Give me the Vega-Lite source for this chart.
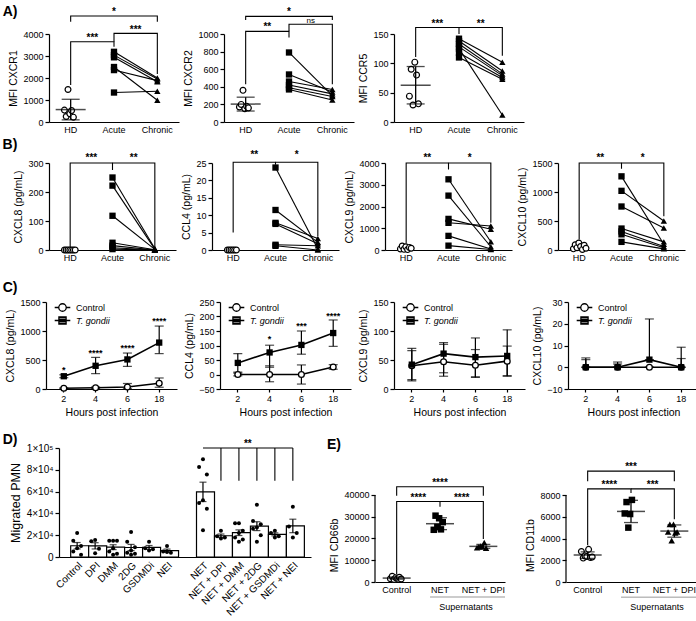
{
"$schema":"https://vega.github.io/schema/vega-lite/v6.json",
"padding":{"left":1,"top":5,"right":0,"bottom":0},
"config":{
 "view":{"stroke":null},
 "font":"Liberation Sans",
 "axis":{"labelFont":"Liberation Sans","titleFont":"Liberation Sans","labelFontSize":9,"titleFontSize":10.5,"titleFontWeight":"normal","labelColor":"black","titleColor":"black","domainColor":"black","tickColor":"black","domainWidth":1.2,"tickWidth":1.2,"tickSize":4,"grid":false,"labelPadding":2,"titlePadding":4,"labelOverlap":false},
 "text":{"font":"Liberation Sans","color":"black"},
 "point":{"opacity":1},
 "legend":{"labelFont":"Liberation Sans","labelColor":"black"}
},
"datasets":{
 "sp":[{"a":0}],
 "a1":[{"g":"HD","d":1,"v":540},{"g":"HD","d":2,"v":250},{"g":"HD","d":3,"v":1480},{"g":"HD","d":4,"v":380},{"g":"HD","d":5,"v":520},{"g":"HD","d":6,"v":220},
  {"g":"Acute","d":1,"v":3190},{"g":"Chronic","d":1,"v":2000},{"g":"Acute","d":2,"v":3040},{"g":"Chronic","d":2,"v":1950},{"g":"Acute","d":3,"v":2940},{"g":"Chronic","d":3,"v":1830},{"g":"Acute","d":4,"v":2500},{"g":"Chronic","d":4,"v":990},{"g":"Acute","d":5,"v":2360},{"g":"Chronic","d":5,"v":1880},{"g":"Acute","d":6,"v":1340},{"g":"Chronic","d":6,"v":1400}],
 "a1k":[{"k":"b","b":1,"o":1,"g":"HD","v":1680},{"k":"b","b":1,"o":2,"g":"HD","v":3650},{"k":"b","b":1,"o":3,"g":"Acute","v":3650},{"k":"b","b":1,"o":4,"g":"Acute","v":3420},
  {"k":"b","b":2,"o":1,"g":"Acute","v":3650},{"k":"b","b":2,"o":2,"g":"Acute","v":4030},{"k":"b","b":2,"o":3,"g":"Chronic","v":4030},{"k":"b","b":2,"o":4,"g":"Chronic","v":2180},
  {"k":"b","b":3,"o":1,"g":"HD","v":4560},{"k":"b","b":3,"o":2,"g":"HD","v":4820},{"k":"b","b":3,"o":3,"g":"Chronic","v":4820},{"k":"b","b":3,"o":4,"g":"Chronic","v":4560},
  {"k":"m","g":"HD","v":3680,"t":"***"},{"k":"m","g":"Acute","v":4060,"t":"***"},{"k":"c","g":"Acute","v":4850,"t":"*"},{"k":"L","g":"HD","v":5318,"t":"A)"}],
 "a2":[{"g":"HD","d":1,"v":170},{"g":"HD","d":2,"v":200},{"g":"HD","d":3,"v":360},{"g":"HD","d":4,"v":150},{"g":"HD","d":5,"v":180},{"g":"HD","d":6,"v":160},
  {"g":"Acute","d":1,"v":790},{"g":"Chronic","d":1,"v":300},{"g":"Acute","d":2,"v":540},{"g":"Chronic","d":2,"v":340},{"g":"Acute","d":3,"v":460},{"g":"Chronic","d":3,"v":370},{"g":"Acute","d":4,"v":420},{"g":"Chronic","d":4,"v":320},{"g":"Acute","d":5,"v":390},{"g":"Chronic","d":5,"v":290},{"g":"Acute","d":6,"v":370},{"g":"Chronic","d":6,"v":250}],
 "a2k":[{"k":"b","b":1,"o":1,"g":"HD","v":430},{"k":"b","b":1,"o":2,"g":"HD","v":1030},{"k":"b","b":1,"o":3,"g":"Acute","v":1030},{"k":"b","b":1,"o":4,"g":"Acute","v":960},
  {"k":"b","b":2,"o":1,"g":"Acute","v":1030},{"k":"b","b":2,"o":2,"g":"Acute","v":1110},{"k":"b","b":2,"o":3,"g":"Chronic","v":1110},{"k":"b","b":2,"o":4,"g":"Chronic","v":430},
  {"k":"b","b":3,"o":1,"g":"HD","v":1160},{"k":"b","b":3,"o":2,"g":"HD","v":1200},{"k":"b","b":3,"o":3,"g":"Chronic","v":1200},{"k":"b","b":3,"o":4,"g":"Chronic","v":1160},
  {"k":"m","g":"HD","v":1040,"t":"**"},{"k":"n","g":"Acute","v":1122,"t":"ns"},{"k":"c","g":"Acute","v":1212,"t":"*"}],
 "a3":[{"g":"HD","d":1,"v":44},{"g":"HD","d":2,"v":90},{"g":"HD","d":3,"v":29},{"g":"HD","d":4,"v":102},{"g":"HD","d":5,"v":80},{"g":"HD","d":6,"v":31},
  {"g":"Acute","d":1,"v":142},{"g":"Chronic","d":1,"v":102},{"g":"Acute","d":2,"v":138},{"g":"Chronic","d":2,"v":87},{"g":"Acute","d":3,"v":133},{"g":"Chronic","d":3,"v":82},{"g":"Acute","d":4,"v":125},{"g":"Chronic","d":4,"v":12},{"g":"Acute","d":5,"v":128},{"g":"Chronic","d":5,"v":79},{"g":"Acute","d":6,"v":118},{"g":"Chronic","d":6,"v":76},{"g":"Acute","d":7,"v":110},{"g":"Chronic","d":7,"v":73}],
 "a3k":[{"k":"b","b":1,"o":1,"g":"HD","v":111},{"k":"b","b":1,"o":2,"g":"HD","v":161},{"k":"b","b":1,"o":3,"g":"Acute","v":161},{"k":"b","b":1,"o":4,"g":"Acute","v":150},
  {"k":"b","b":2,"o":1,"g":"Acute","v":161},{"k":"b","b":2,"o":2,"g":"Chronic","v":161},{"k":"b","b":2,"o":3,"g":"Chronic","v":113},
  {"k":"m","g":"HD","v":162,"t":"***"},{"k":"m","g":"Acute","v":162,"t":"**"}],
 "b1":[{"g":"HD","d":1,"v":0},{"g":"HD","d":2,"v":0},{"g":"HD","d":3,"v":0},{"g":"HD","d":4,"v":0},{"g":"HD","d":5,"v":0},{"g":"HD","d":6,"v":0},{"g":"HD","d":7,"v":0},
  {"g":"Acute","d":1,"v":250},{"g":"Chronic","d":1,"v":5},{"g":"Acute","d":2,"v":222},{"g":"Chronic","d":2,"v":3},{"g":"Acute","d":3,"v":118},{"g":"Chronic","d":3,"v":2},{"g":"Acute","d":4,"v":25},{"g":"Chronic","d":4,"v":1},{"g":"Acute","d":5,"v":15},{"g":"Chronic","d":5,"v":0},{"g":"Acute","d":6,"v":8},{"g":"Chronic","d":6,"v":0},{"g":"Acute","d":7,"v":3},{"g":"Chronic","d":7,"v":0}],
 "b1k":[{"k":"b","b":1,"o":1,"g":"HD","v":10},{"k":"b","b":1,"o":2,"g":"HD","v":300},{"k":"b","b":1,"o":3,"g":"Acute","v":300},{"k":"b","b":1,"o":4,"g":"Acute","v":276},
  {"k":"b","b":2,"o":1,"g":"Acute","v":300},{"k":"b","b":2,"o":2,"g":"Chronic","v":300},{"k":"b","b":2,"o":3,"g":"Chronic","v":10},
  {"k":"m","g":"HD","v":307,"t":"***"},{"k":"m","g":"Acute","v":307,"t":"**"},{"k":"L","g":"HD","v":386,"t":"B)"}],
 "b2":[{"g":"HD","d":1,"v":0},{"g":"HD","d":2,"v":0},{"g":"HD","d":3,"v":0},{"g":"HD","d":4,"v":0},{"g":"HD","d":5,"v":0},{"g":"HD","d":6,"v":0},
  {"g":"Acute","d":1,"v":23.7},{"g":"Chronic","d":1,"v":0.3},{"g":"Acute","d":2,"v":11.5},{"g":"Chronic","d":2,"v":2.2},{"g":"Acute","d":3,"v":7.8},{"g":"Chronic","d":3,"v":3.3},{"g":"Acute","d":4,"v":7.5},{"g":"Chronic","d":4,"v":1.8},{"g":"Acute","d":5,"v":1.5},{"g":"Chronic","d":5,"v":1.2},{"g":"Acute","d":6,"v":1.2},{"g":"Chronic","d":6,"v":0}],
 "b2k":[{"k":"b","b":1,"o":1,"g":"HD","v":5},{"k":"b","b":1,"o":2,"g":"HD","v":25.2},{"k":"b","b":1,"o":3,"g":"Acute","v":25.2},{"k":"b","b":1,"o":4,"g":"Acute","v":24.5},
  {"k":"b","b":2,"o":1,"g":"Acute","v":25.2},{"k":"b","b":2,"o":2,"g":"Chronic","v":25.2},{"k":"b","b":2,"o":3,"g":"Chronic","v":4},
  {"k":"m","g":"HD","v":26.3,"t":"**"},{"k":"m","g":"Acute","v":26.3,"t":"*"}],
 "b3":[{"g":"HD","d":1,"v":50},{"g":"HD","d":2,"v":180},{"g":"HD","d":3,"v":30},{"g":"HD","d":4,"v":150},{"g":"HD","d":5,"v":20},{"g":"HD","d":6,"v":120},{"g":"HD","d":7,"v":80},
  {"g":"Acute","d":1,"v":3250},{"g":"Chronic","d":1,"v":380},{"g":"Acute","d":2,"v":2500},{"g":"Chronic","d":2,"v":150},{"g":"Acute","d":3,"v":1430},{"g":"Chronic","d":3,"v":950},{"g":"Acute","d":4,"v":1250},{"g":"Chronic","d":4,"v":1100},{"g":"Acute","d":5,"v":650},{"g":"Chronic","d":5,"v":50},{"g":"Acute","d":6,"v":200},{"g":"Chronic","d":6,"v":20}],
 "b3k":[{"k":"b","b":1,"o":1,"g":"HD","v":300},{"k":"b","b":1,"o":2,"g":"HD","v":4000},{"k":"b","b":1,"o":3,"g":"Acute","v":4000},{"k":"b","b":1,"o":4,"g":"Acute","v":3700},
  {"k":"b","b":2,"o":1,"g":"Acute","v":4000},{"k":"b","b":2,"o":2,"g":"Chronic","v":4000},{"k":"b","b":2,"o":3,"g":"Chronic","v":1250},
  {"k":"m","g":"HD","v":4090,"t":"**"},{"k":"m","g":"Acute","v":4090,"t":"*"}],
 "b4":[{"g":"HD","d":1,"v":20},{"g":"HD","d":2,"v":90},{"g":"HD","d":3,"v":40},{"g":"HD","d":4,"v":120},{"g":"HD","d":5,"v":60},{"g":"HD","d":6,"v":10},{"g":"HD","d":7,"v":80},{"g":"HD","d":8,"v":30},
  {"g":"Acute","d":1,"v":1270},{"g":"Chronic","d":1,"v":100},{"g":"Acute","d":2,"v":1020},{"g":"Chronic","d":2,"v":500},{"g":"Acute","d":3,"v":750},{"g":"Chronic","d":3,"v":380},{"g":"Acute","d":4,"v":370},{"g":"Chronic","d":4,"v":140},{"g":"Acute","d":5,"v":320},{"g":"Chronic","d":5,"v":60},{"g":"Acute","d":6,"v":270},{"g":"Chronic","d":6,"v":40},{"g":"Acute","d":7,"v":140},{"g":"Chronic","d":7,"v":20}],
 "b4k":[{"k":"b","b":1,"o":1,"g":"HD","v":180},{"k":"b","b":1,"o":2,"g":"HD","v":1500},{"k":"b","b":1,"o":3,"g":"Acute","v":1500},{"k":"b","b":1,"o":4,"g":"Acute","v":1400},
  {"k":"b","b":2,"o":1,"g":"Acute","v":1500},{"k":"b","b":2,"o":2,"g":"Chronic","v":1500},{"k":"b","b":2,"o":3,"g":"Chronic","v":580},
  {"k":"m","g":"HD","v":1535,"t":"**"},{"k":"m","g":"Acute","v":1535,"t":"*"}],
 "c1":[{"t":"2","grp":"Control","v":12,"lo":5,"hi":20},{"t":"4","grp":"Control","v":22,"lo":10,"hi":35},{"t":"6","grp":"Control","v":35,"lo":5,"hi":95},{"t":"18","grp":"Control","v":100,"lo":30,"hi":190},
  {"t":"2","grp":"T. gondii","v":220,"lo":195,"hi":245},{"t":"4","grp":"T. gondii","v":400,"lo":265,"hi":545},{"t":"6","grp":"T. gondii","v":510,"lo":390,"hi":620},{"t":"18","grp":"T. gondii","v":800,"lo":610,"hi":1085}],
 "c1s":[{"k":"s","t":"2","v":270,"s":"*"},{"k":"s","t":"4","v":575,"s":"****"},{"k":"s","t":"6","v":650,"s":"****"},{"k":"s","t":"18","v":1115,"s":"****"},{"k":"L","t":"2","v":1862,"s":"C)"}],
 "c2":[{"t":"2","grp":"Control","v":0,"lo":-5,"hi":5},{"t":"4","grp":"Control","v":0,"lo":-25,"hi":30},{"t":"6","grp":"Control","v":0,"lo":-33,"hi":33},{"t":"18","grp":"Control","v":26,"lo":18,"hi":34},
  {"t":"2","grp":"T. gondii","v":40,"lo":8,"hi":72},{"t":"4","grp":"T. gondii","v":76,"lo":25,"hi":101},{"t":"6","grp":"T. gondii","v":102,"lo":70,"hi":150},{"t":"18","grp":"T. gondii","v":143,"lo":97,"hi":188}],
 "c2s":[{"k":"s","t":"4","v":111,"s":"*"},{"k":"s","t":"6","v":158,"s":"***"},{"k":"s","t":"18","v":192,"s":"****"}],
 "c3":[{"t":"2","grp":"Control","v":40,"lo":14,"hi":66},{"t":"4","grp":"Control","v":47,"lo":22,"hi":77},{"t":"6","grp":"Control","v":41,"lo":21,"hi":68},{"t":"18","grp":"Control","v":48,"lo":23,"hi":74},
  {"t":"2","grp":"T. gondii","v":42,"lo":16,"hi":70},{"t":"4","grp":"T. gondii","v":61,"lo":28,"hi":80},{"t":"6","grp":"T. gondii","v":55,"lo":20,"hi":88},{"t":"18","grp":"T. gondii","v":57,"lo":22,"hi":102}],
 "c4":[{"t":"2","grp":"Control","v":0,"lo":0,"hi":3.5},{"t":"4","grp":"Control","v":0,"lo":0,"hi":1.5},{"t":"6","grp":"Control","v":0,"lo":0,"hi":0.01},{"t":"18","grp":"Control","v":0,"lo":0,"hi":4},
  {"t":"2","grp":"T. gondii","v":0,"lo":0,"hi":4.3},{"t":"4","grp":"T. gondii","v":0,"lo":0,"hi":2.4},{"t":"6","grp":"T. gondii","v":3.5,"lo":3.5,"hi":22.2},{"t":"18","grp":"T. gondii","v":0,"lo":0,"hi":9.2}],
 "d":[{"c":"Control","r":1,"v":22000},{"c":"Control","r":2,"v":15000},{"c":"Control","r":3,"v":10000},{"c":"Control","r":4,"v":8000},{"c":"Control","r":5,"v":5000},{"c":"Control","r":6,"v":2000},
  {"c":"DPI","r":1,"v":15500},{"c":"DPI","r":2,"v":14500},{"c":"DPI","r":3,"v":7500},{"c":"DPI","r":4,"v":3500},
  {"c":"DMM","r":1,"v":15000},{"c":"DMM","r":2,"v":15000},{"c":"DMM","r":3,"v":15000},{"c":"DMM","r":4,"v":8000},{"c":"DMM","r":5,"v":5000},{"c":"DMM","r":6,"v":3000},{"c":"DMM","r":7,"v":2000},
  {"c":"2DG","r":1,"v":23000},{"c":"2DG","r":2,"v":14000},{"c":"2DG","r":3,"v":9000},{"c":"2DG","r":4,"v":6000},{"c":"2DG","r":5,"v":4000},{"c":"2DG","r":6,"v":3000},{"c":"2DG","r":7,"v":2000},
  {"c":"GSDMDi","r":1,"v":14000},{"c":"GSDMDi","r":2,"v":8000},{"c":"GSDMDi","r":3,"v":7000},{"c":"GSDMDi","r":4,"v":6000},
  {"c":"NEI","r":1,"v":10000},{"c":"NEI","r":2,"v":5000},{"c":"NEI","r":3,"v":4000},{"c":"NEI","r":4,"v":4500},
  {"c":"NET","r":1,"v":89600},{"c":"NET","r":2,"v":82600},{"c":"NET","r":3,"v":75800},{"c":"NET","r":4,"v":52000},{"c":"NET","r":5,"v":49500},{"c":"NET","r":6,"v":44300},{"c":"NET","r":7,"v":24500},
  {"c":"NET + DPI","r":1,"v":24000},{"c":"NET + DPI","r":2,"v":19000},{"c":"NET + DPI","r":3,"v":18000},{"c":"NET + DPI","r":4,"v":17000},
  {"c":"NET + DMM","r":1,"v":31000},{"c":"NET + DMM","r":2,"v":31000},{"c":"NET + DMM","r":3,"v":24000},{"c":"NET + DMM","r":4,"v":22000},{"c":"NET + DMM","r":5,"v":18000},{"c":"NET + DMM","r":6,"v":16000},{"c":"NET + DMM","r":7,"v":14000},
  {"c":"NET + 2DG","r":1,"v":48000},{"c":"NET + 2DG","r":2,"v":33000},{"c":"NET + 2DG","r":3,"v":30000},{"c":"NET + 2DG","r":4,"v":27000},{"c":"NET + 2DG","r":5,"v":26000},{"c":"NET + 2DG","r":6,"v":20000},{"c":"NET + 2DG","r":7,"v":14000},
  {"c":"NET + GSDMDi","r":1,"v":24000},{"c":"NET + GSDMDi","r":2,"v":22000},{"c":"NET + GSDMDi","r":3,"v":19000},{"c":"NET + GSDMDi","r":4,"v":18000},
  {"c":"NET + NEI","r":1,"v":46000},{"c":"NET + NEI","r":2,"v":28000},{"c":"NET + NEI","r":3,"v":22000},{"c":"NET + NEI","r":4,"v":18000}],
 "dk":[{"k":"r","c":"NET + DPI","v":70000,"v2":100000},{"k":"r","c":"NET + DMM","v":70000,"v2":100000},{"k":"r","c":"NET + 2DG","v":70000,"v2":100000},{"k":"r","c":"NET + GSDMDi","v":70000,"v2":100000},{"k":"r","c":"NET + NEI","v":70000,"v2":100000},
  {"k":"h","c":"NET","v":100000},{"k":"h","c":"NET + NEI","v":100000},{"k":"s","c":"NET + DMM","v":100900,"t":"**"},{"k":"L","c":"Control","v":113760,"t":"D)"}],
 "e1":[{"g":"Control","r":1,"v":1500},{"g":"Control","r":2,"v":2600},{"g":"Control","r":3,"v":1200},{"g":"Control","r":4,"v":2000},{"g":"Control","r":5,"v":1700},{"g":"Control","r":6,"v":2200},{"g":"Control","r":7,"v":1400},
  {"g":"NET","r":1,"v":24000},{"g":"NET","r":2,"v":30500},{"g":"NET","r":3,"v":25300},{"g":"NET","r":4,"v":29300},{"g":"NET","r":5,"v":24200},{"g":"NET","r":6,"v":27500},
  {"g":"NET + DPI","r":1,"v":15800},{"g":"NET + DPI","r":2,"v":16200},{"g":"NET + DPI","r":3,"v":16500},{"g":"NET + DPI","r":4,"v":16100},{"g":"NET + DPI","r":5,"v":18100},{"g":"NET + DPI","r":6,"v":15600}],
 "e1k":[{"k":"b","b":1,"o":1,"g":"Control","v":3680},{"k":"b","b":1,"o":2,"g":"Control","v":37000},{"k":"b","b":1,"o":3,"g":"NET","v":37000},{"k":"b","b":1,"o":4,"g":"NET","v":34600},
  {"k":"b","b":2,"o":1,"g":"NET","v":37000},{"k":"b","b":2,"o":2,"g":"NET + DPI","v":37000},{"k":"b","b":2,"o":3,"g":"NET + DPI","v":19800},
  {"k":"b","b":3,"o":1,"g":"Control","v":39700},{"k":"b","b":3,"o":2,"g":"Control","v":43800},{"k":"b","b":3,"o":3,"g":"NET + DPI","v":43800},{"k":"b","b":3,"o":4,"g":"NET + DPI","v":39700},
  {"k":"m","g":"Control","v":37400,"t":"****"},{"k":"m","g":"NET","v":37400,"t":"****"},{"k":"c","g":"NET","v":44200,"t":"****"},
  {"k":"u","g":"NET","g2":"NET + DPI","v":-6900},{"k":"w","g":"NET","v":-12900,"t":"Supernatants"},{"k":"L","g":"Control","v":66200,"t":"E)"},
  {"k":"ax","g":"Control","v":0,"v2":40000}],
 "e2":[{"g":"Control","r":1,"v":2800},{"g":"Control","r":2,"v":2200},{"g":"Control","r":3,"v":2400},{"g":"Control","r":4,"v":2350},{"g":"Control","r":5,"v":3000},{"g":"Control","r":6,"v":2250},{"g":"Control","r":7,"v":2300},
  {"g":"NET","r":1,"v":6300},{"g":"NET","r":2,"v":7350},{"g":"NET","r":3,"v":5000},{"g":"NET","r":4,"v":6250},{"g":"NET","r":5,"v":7550},
  {"g":"NET + DPI","r":1,"v":4600},{"g":"NET + DPI","r":2,"v":5300},{"g":"NET + DPI","r":3,"v":3800},{"g":"NET + DPI","r":4,"v":5300},{"g":"NET + DPI","r":5,"v":4500},{"g":"NET + DPI","r":6,"v":4600}],
 "e2k":[{"k":"b","b":1,"o":1,"g":"Control","v":3380},{"k":"b","b":1,"o":2,"g":"Control","v":8560},{"k":"b","b":1,"o":3,"g":"NET","v":8560},{"k":"b","b":1,"o":4,"g":"NET","v":8180},
  {"k":"b","b":2,"o":1,"g":"NET","v":8560},{"k":"b","b":2,"o":2,"g":"NET + DPI","v":8560},{"k":"b","b":2,"o":3,"g":"NET + DPI","v":5770},
  {"k":"b","b":3,"o":1,"g":"Control","v":9270},{"k":"b","b":3,"o":2,"g":"Control","v":10200},{"k":"b","b":3,"o":3,"g":"NET + DPI","v":10200},{"k":"b","b":3,"o":4,"g":"NET + DPI","v":9270},
  {"k":"m","g":"Control","v":8640,"t":"****"},{"k":"m","g":"NET","v":8640,"t":"***"},{"k":"c","g":"NET","v":10280,"t":"***"},
  {"k":"u","g":"NET","g2":"NET + DPI","v":-1395},{"k":"w","g":"NET","v":-2600,"t":"Supernatants"},
  {"k":"ax","g":"Control","v":0,"v2":8000}]
},
"resolve":{"scale":{"shape":"independent"},"legend":{"shape":"independent"}},
"spacing":15,
"vconcat":[
 {"spacing":19,"resolve":{"scale":{"shape":"independent"},"legend":{"shape":"independent"}},
  "vconcat":[
  {"spacing":4,
   "vconcat":[
   {"spacing":0,"hconcat":[
    {"width":1,"height":1,"data":{"name":"sp"},"mark":{"type":"point","size":0,"opacity":0},"encoding":{}},
    {"spacing":4,"hconcat":[
    {"width":130,"height":88,
     "encoding":{"x":{"field":"g","type":"nominal","scale":{"domain":["HD","Acute","Chronic"],"paddingInner":0,"paddingOuter":0},"axis":{"title":null,"labelAngle":0,"ticks":false,"labelPadding":3}},
       "y":{"field":"v","type":"quantitative","title":"MFI CXCR1","scale":{"domain":[0,4000],"nice":false,"zero":false},"axis":{"values":[0,1000,2000,3000,4000],"format":"d","title":"MFI CXCR1"}}},
     "layer":[
     {"data":{"name":"a1"},"transform":[{"filter":"datum.g=='HD'"}],"mark":{"type":"point","shape":"circle","filled":true,"fill":"white","stroke":"black","strokeWidth":1.2,"size":34,"opacity":1},"encoding":{"xOffset":{"field":"d","type":"nominal","scale":{"range":[14.5,28.9]}}}},
     {"data":{"name":"a1"},"transform":[{"filter":"datum.g!='HD'"}],"mark":{"type":"line","color":"black","strokeWidth":1.1},"encoding":{"detail":{"field":"d"}}},
     {"data":{"name":"a1"},"transform":[{"filter":"datum.g!='HD'"}],"mark":{"type":"point","filled":true,"color":"black","size":40,"opacity":1},"encoding":{"shape":{"field":"g","type":"nominal","scale":{"domain":["Acute","Chronic"],"range":["square","triangle-up"]},"legend":null}}},
     {"data":{"name":"a1"},"transform":[{"filter":"datum.g=='HD'"}],"mark":{"type":"errorbar","extent":"stdev","ticks":true,"size":18,"thickness":1.3,"color":"black"},"encoding":{}},
     {"data":{"name":"a1"},"transform":[{"filter":"datum.g=='HD'"},{"aggregate":[{"op":"mean","field":"v","as":"v"}],"groupby":["g"]}],"mark":{"type":"tick","size":30,"thickness":1.5,"color":"black"},"encoding":{}},
     {"data":{"name":"a1k"},"transform":[{"filter":"datum.k=='b'"}],"mark":{"type":"line","color":"black","strokeWidth":1.1},"encoding":{"detail":{"field":"b"},"order":{"field":"o"}}},
     {"data":{"name":"a1k"},"transform":[{"filter":"datum.k=='m'"}],"mark":{"type":"text","color":"black","fontSize":10,"fontWeight":"bold","baseline":"alphabetic"},"encoding":{"x":{"field":"g","type":"nominal","bandPosition":1},"text":{"field":"t"}}},
     {"data":{"name":"a1k"},"transform":[{"filter":"datum.k=='c'"}],"mark":{"type":"text","color":"black","fontSize":10,"fontWeight":"bold","baseline":"alphabetic"},"encoding":{"x":{"field":"g","type":"nominal","bandPosition":0.5},"text":{"field":"t"}}},
     {"data":{"name":"a1k"},"transform":[{"filter":"datum.k=='L'"}],"mark":{"type":"text","color":"black","fontSize":14,"fontWeight":"bold","align":"left","baseline":"top"},"encoding":{"x":{"field":"g","type":"nominal","bandPosition":-1.07},"text":{"field":"t"}}}
    ]},
    {"width":130,"height":88,
     "encoding":{"x":{"field":"g","type":"nominal","scale":{"domain":["HD","Acute","Chronic"],"paddingInner":0,"paddingOuter":0},"axis":{"title":null,"labelAngle":0,"ticks":false,"labelPadding":3}},
       "y":{"field":"v","type":"quantitative","title":"MFI CXCR2","scale":{"domain":[0,1000],"nice":false,"zero":false},"axis":{"values":[0,200,400,600,800,1000],"format":"d","title":"MFI CXCR2"}}},
     "layer":[
     {"data":{"name":"a2"},"transform":[{"filter":"datum.g=='HD'"}],"mark":{"type":"point","shape":"circle","filled":true,"fill":"white","stroke":"black","strokeWidth":1.2,"size":34,"opacity":1},"encoding":{"xOffset":{"field":"d","type":"nominal","scale":{"range":[7.9,35.5]}}}},
     {"data":{"name":"a2"},"transform":[{"filter":"datum.g!='HD'"}],"mark":{"type":"line","color":"black","strokeWidth":1.1},"encoding":{"detail":{"field":"d"}}},
     {"data":{"name":"a2"},"transform":[{"filter":"datum.g!='HD'"}],"mark":{"type":"point","filled":true,"color":"black","size":40,"opacity":1},"encoding":{"shape":{"field":"g","type":"nominal","scale":{"domain":["Acute","Chronic"],"range":["square","triangle-up"]},"legend":null}}},
     {"data":{"name":"a2"},"transform":[{"filter":"datum.g=='HD'"}],"mark":{"type":"errorbar","extent":"stdev","ticks":true,"size":18,"thickness":1.3,"color":"black"},"encoding":{}},
     {"data":{"name":"a2"},"transform":[{"filter":"datum.g=='HD'"},{"aggregate":[{"op":"mean","field":"v","as":"v"}],"groupby":["g"]}],"mark":{"type":"tick","size":30,"thickness":1.5,"color":"black"},"encoding":{}},
     {"data":{"name":"a2k"},"transform":[{"filter":"datum.k=='b'"}],"mark":{"type":"line","color":"black","strokeWidth":1.1},"encoding":{"detail":{"field":"b"},"order":{"field":"o"}}},
     {"data":{"name":"a2k"},"transform":[{"filter":"datum.k=='m'"}],"mark":{"type":"text","color":"black","fontSize":10,"fontWeight":"bold","baseline":"alphabetic"},"encoding":{"x":{"field":"g","type":"nominal","bandPosition":1},"text":{"field":"t"}}},
     {"data":{"name":"a2k"},"transform":[{"filter":"datum.k=='n'"}],"mark":{"type":"text","color":"black","fontSize":8,"baseline":"alphabetic"},"encoding":{"x":{"field":"g","type":"nominal","bandPosition":1},"text":{"field":"t"}}},
     {"data":{"name":"a2k"},"transform":[{"filter":"datum.k=='c'"}],"mark":{"type":"text","color":"black","fontSize":10,"fontWeight":"bold","baseline":"alphabetic"},"encoding":{"x":{"field":"g","type":"nominal","bandPosition":0.5},"text":{"field":"t"}}}
    ]},
    {"width":130,"height":88,
     "encoding":{"x":{"field":"g","type":"nominal","scale":{"domain":["HD","Acute","Chronic"],"paddingInner":0,"paddingOuter":0},"axis":{"title":null,"labelAngle":0,"ticks":false,"labelPadding":3}},
       "y":{"field":"v","type":"quantitative","title":"MFI CCR5","scale":{"domain":[0,150],"nice":false,"zero":false},"axis":{"values":[0,50,100,150],"format":"d","title":"MFI CCR5"}}},
     "layer":[
     {"data":{"name":"a3"},"transform":[{"filter":"datum.g=='HD'"}],"mark":{"type":"point","shape":"circle","filled":true,"fill":"white","stroke":"black","strokeWidth":1.2,"size":34,"opacity":1},"encoding":{"xOffset":{"field":"d","type":"nominal","scale":{"range":[15.7,27.7]}}}},
     {"data":{"name":"a3"},"transform":[{"filter":"datum.g!='HD'"}],"mark":{"type":"line","color":"black","strokeWidth":1.1},"encoding":{"detail":{"field":"d"}}},
     {"data":{"name":"a3"},"transform":[{"filter":"datum.g!='HD'"}],"mark":{"type":"point","filled":true,"color":"black","size":40,"opacity":1},"encoding":{"shape":{"field":"g","type":"nominal","scale":{"domain":["Acute","Chronic"],"range":["square","triangle-up"]},"legend":null}}},
     {"data":{"name":"a3"},"transform":[{"filter":"datum.g=='HD'"}],"mark":{"type":"errorbar","extent":"stdev","ticks":true,"size":18,"thickness":1.3,"color":"black"},"encoding":{}},
     {"data":{"name":"a3"},"transform":[{"filter":"datum.g=='HD'"},{"aggregate":[{"op":"mean","field":"v","as":"v"}],"groupby":["g"]}],"mark":{"type":"tick","size":30,"thickness":1.5,"color":"black"},"encoding":{}},
     {"data":{"name":"a3k"},"transform":[{"filter":"datum.k=='b'"}],"mark":{"type":"line","color":"black","strokeWidth":1.1},"encoding":{"detail":{"field":"b"},"order":{"field":"o"}}},
     {"data":{"name":"a3k"},"transform":[{"filter":"datum.k=='m'"}],"mark":{"type":"text","color":"black","fontSize":10,"fontWeight":"bold","baseline":"alphabetic"},"encoding":{"x":{"field":"g","type":"nominal","bandPosition":1},"text":{"field":"t"}}}
    ]}
    ]}
   ]},
   {"spacing":0,"hconcat":[
    {"width":1,"height":1,"data":{"name":"sp"},"mark":{"type":"point","size":0,"opacity":0},"encoding":{}},
    {"spacing":5,"hconcat":[
    {"width":127,"height":87,
     "encoding":{"x":{"field":"g","type":"nominal","scale":{"domain":["HD","Acute","Chronic"],"paddingInner":0,"paddingOuter":0},"axis":{"title":null,"labelAngle":0,"ticks":false,"labelPadding":3}},
       "y":{"field":"v","type":"quantitative","title":"CXCL8 (pg/mL)","scale":{"domain":[0,300],"nice":false,"zero":false},"axis":{"values":[0,100,200,300],"format":"d","title":"CXCL8 (pg/mL)"}}},
     "layer":[
     {"data":{"name":"b1"},"transform":[{"filter":"datum.g=='HD'"}],"mark":{"type":"point","shape":"circle","filled":true,"fill":"white","stroke":"black","strokeWidth":1.2,"size":34,"opacity":1},"encoding":{"xOffset":{"field":"d","type":"nominal","scale":{"range":[7.2,35.2]}}}},
     {"data":{"name":"b1"},"transform":[{"filter":"datum.g!='HD'"}],"mark":{"type":"line","color":"black","strokeWidth":1.1},"encoding":{"detail":{"field":"d"}}},
     {"data":{"name":"b1"},"transform":[{"filter":"datum.g!='HD'"}],"mark":{"type":"point","filled":true,"color":"black","size":40,"opacity":1},"encoding":{"shape":{"field":"g","type":"nominal","scale":{"domain":["Acute","Chronic"],"range":["square","triangle-up"]},"legend":null}}},
     {"data":{"name":"b1k"},"transform":[{"filter":"datum.k=='b'"}],"mark":{"type":"line","color":"black","strokeWidth":1.1},"encoding":{"detail":{"field":"b"},"order":{"field":"o"}}},
     {"data":{"name":"b1k"},"transform":[{"filter":"datum.k=='m'"}],"mark":{"type":"text","color":"black","fontSize":10,"fontWeight":"bold","baseline":"alphabetic"},"encoding":{"x":{"field":"g","type":"nominal","bandPosition":1},"text":{"field":"t"}}},
     {"data":{"name":"b1k"},"transform":[{"filter":"datum.k=='L'"}],"mark":{"type":"text","color":"black","fontSize":14,"fontWeight":"bold","align":"left","baseline":"top"},"encoding":{"x":{"field":"g","type":"nominal","bandPosition":-1.096},"text":{"field":"t"}}}
    ]},
    {"width":127,"height":87,
     "encoding":{"x":{"field":"g","type":"nominal","scale":{"domain":["HD","Acute","Chronic"],"paddingInner":0,"paddingOuter":0},"axis":{"title":null,"labelAngle":0,"ticks":false,"labelPadding":3}},
       "y":{"field":"v","type":"quantitative","title":"CCL4 (pg/mL)","scale":{"domain":[0,25],"nice":false,"zero":false},"axis":{"values":[0,5,10,15,20,25],"format":"d","title":"CCL4 (pg/mL)"}}},
     "layer":[
     {"data":{"name":"b2"},"transform":[{"filter":"datum.g=='HD'"}],"mark":{"type":"point","shape":"circle","filled":true,"fill":"white","stroke":"black","strokeWidth":1.2,"size":34,"opacity":1},"encoding":{"xOffset":{"field":"d","type":"nominal","scale":{"range":[8.6,33.8]}}}},
     {"data":{"name":"b2"},"transform":[{"filter":"datum.g!='HD'"}],"mark":{"type":"line","color":"black","strokeWidth":1.1},"encoding":{"detail":{"field":"d"}}},
     {"data":{"name":"b2"},"transform":[{"filter":"datum.g!='HD'"}],"mark":{"type":"point","filled":true,"color":"black","size":40,"opacity":1},"encoding":{"shape":{"field":"g","type":"nominal","scale":{"domain":["Acute","Chronic"],"range":["square","triangle-up"]},"legend":null}}},
     {"data":{"name":"b2k"},"transform":[{"filter":"datum.k=='b'"}],"mark":{"type":"line","color":"black","strokeWidth":1.1},"encoding":{"detail":{"field":"b"},"order":{"field":"o"}}},
     {"data":{"name":"b2k"},"transform":[{"filter":"datum.k=='m'"}],"mark":{"type":"text","color":"black","fontSize":10,"fontWeight":"bold","baseline":"alphabetic"},"encoding":{"x":{"field":"g","type":"nominal","bandPosition":1},"text":{"field":"t"}}}
    ]},
    {"width":127,"height":87,
     "encoding":{"x":{"field":"g","type":"nominal","scale":{"domain":["HD","Acute","Chronic"],"paddingInner":0,"paddingOuter":0},"axis":{"title":null,"labelAngle":0,"ticks":false,"labelPadding":3}},
       "y":{"field":"v","type":"quantitative","title":"CXCL9 (pg/mL)","scale":{"domain":[0,4000],"nice":false,"zero":false},"axis":{"values":[0,1000,2000,3000,4000],"format":"d","title":"CXCL9 (pg/mL)"}}},
     "layer":[
     {"data":{"name":"b3"},"transform":[{"filter":"datum.g=='HD'"}],"mark":{"type":"point","shape":"circle","filled":true,"fill":"white","stroke":"black","strokeWidth":1.2,"size":34,"opacity":1},"encoding":{"xOffset":{"field":"d","type":"nominal","scale":{"range":[8.2,34.2]}}}},
     {"data":{"name":"b3"},"transform":[{"filter":"datum.g!='HD'"}],"mark":{"type":"line","color":"black","strokeWidth":1.1},"encoding":{"detail":{"field":"d"}}},
     {"data":{"name":"b3"},"transform":[{"filter":"datum.g!='HD'"}],"mark":{"type":"point","filled":true,"color":"black","size":40,"opacity":1},"encoding":{"shape":{"field":"g","type":"nominal","scale":{"domain":["Acute","Chronic"],"range":["square","triangle-up"]},"legend":null}}},
     {"data":{"name":"b3k"},"transform":[{"filter":"datum.k=='b'"}],"mark":{"type":"line","color":"black","strokeWidth":1.1},"encoding":{"detail":{"field":"b"},"order":{"field":"o"}}},
     {"data":{"name":"b3k"},"transform":[{"filter":"datum.k=='m'"}],"mark":{"type":"text","color":"black","fontSize":10,"fontWeight":"bold","baseline":"alphabetic"},"encoding":{"x":{"field":"g","type":"nominal","bandPosition":1},"text":{"field":"t"}}}
    ]},
    {"width":127,"height":87,
     "encoding":{"x":{"field":"g","type":"nominal","scale":{"domain":["HD","Acute","Chronic"],"paddingInner":0,"paddingOuter":0},"axis":{"title":null,"labelAngle":0,"ticks":false,"labelPadding":3}},
       "y":{"field":"v","type":"quantitative","title":"CXCL10 (pg/mL)","scale":{"domain":[0,1500],"nice":false,"zero":false},"axis":{"values":[0,500,1000,1500],"format":"d","title":"CXCL10 (pg/mL)"}}},
     "layer":[
     {"data":{"name":"b4"},"transform":[{"filter":"datum.g=='HD'"}],"mark":{"type":"point","shape":"circle","filled":true,"fill":"white","stroke":"black","strokeWidth":1.2,"size":34,"opacity":1},"encoding":{"xOffset":{"field":"d","type":"nominal","scale":{"range":[6.8,35.6]}}}},
     {"data":{"name":"b4"},"transform":[{"filter":"datum.g!='HD'"}],"mark":{"type":"line","color":"black","strokeWidth":1.1},"encoding":{"detail":{"field":"d"}}},
     {"data":{"name":"b4"},"transform":[{"filter":"datum.g!='HD'"}],"mark":{"type":"point","filled":true,"color":"black","size":40,"opacity":1},"encoding":{"shape":{"field":"g","type":"nominal","scale":{"domain":["Acute","Chronic"],"range":["square","triangle-up"]},"legend":null}}},
     {"data":{"name":"b4k"},"transform":[{"filter":"datum.k=='b'"}],"mark":{"type":"line","color":"black","strokeWidth":1.1},"encoding":{"detail":{"field":"b"},"order":{"field":"o"}}},
     {"data":{"name":"b4k"},"transform":[{"filter":"datum.k=='m'"}],"mark":{"type":"text","color":"black","fontSize":10,"fontWeight":"bold","baseline":"alphabetic"},"encoding":{"x":{"field":"g","type":"nominal","bandPosition":1},"text":{"field":"t"}}}
    ]}
    ]}
   ]}
  ]},
  {"spacing":0,"resolve":{"scale":{"shape":"independent"},"legend":{"shape":"independent"}},"hconcat":[
   {"width":1,"height":1,"data":{"name":"sp"},"mark":{"type":"point","size":0,"opacity":0},"encoding":{}},
   {"spacing":7,"resolve":{"scale":{"shape":"independent"},"legend":{"shape":"independent"}},"hconcat":[
   {"width":131,"height":87,
    "encoding":{"y":{"field":"v","type":"quantitative","title":"CXCL8 (pg/mL)","scale":{"domain":[0,1500],"nice":false,"zero":false},"axis":{"values":[0,500,1000,1500],"format":"d","title":"CXCL8 (pg/mL)"}}},
    "layer":[
    {"data":{"name":"c1"},"mark":{"type":"errorbar","ticks":true,"size":9,"thickness":1.2,"color":"black"},"encoding":{"x":{"field":"t","type":"ordinal","scale":{"type":"band","domain":["2","4","6","18"],"paddingInner":0,"paddingOuter":0.06},"axis":{"title":"Hours post infection","labelAngle":0,"ticks":true,"tickSize":3}},"y":{"field":"lo","type":"quantitative","title":"CXCL8 (pg/mL)","scale":{"domain":[0,1500],"nice":false,"zero":false},"axis":{"values":[0,500,1000,1500],"format":"d","title":"CXCL8 (pg/mL)"}},"y2":{"field":"hi"}}},
    {"data":{"name":"c1"},"mark":{"type":"line","color":"black","strokeWidth":1.6},"encoding":{"x":{"field":"t","type":"ordinal"},"detail":{"field":"grp"}}},
    {"data":{"name":"c1"},"transform":[{"filter":"datum.grp=='Control'"}],"mark":{"type":"point","shape":"circle","filled":true,"fill":"white","stroke":"black","strokeWidth":1.3,"size":34,"opacity":1},"encoding":{"x":{"field":"t","type":"ordinal"}}},
    {"data":{"name":"c1"},"transform":[{"filter":"datum.grp!='Control'"}],"mark":{"type":"point","shape":"square","filled":true,"color":"black","size":40,"opacity":1},"encoding":{"x":{"field":"t","type":"ordinal"}}},
    {"data":{"name":"c1s"},"transform":[{"filter":"datum.k=='s'"}],"mark":{"type":"text","color":"black","fontSize":9,"fontWeight":"bold","baseline":"alphabetic"},"encoding":{"x":{"field":"t","type":"ordinal"},"text":{"field":"s"}}},
    {"data":{"name":"c1s"},"transform":[{"filter":"datum.k=='L'"}],"mark":{"type":"text","color":"black","fontSize":14,"fontWeight":"bold","align":"left","baseline":"top"},"encoding":{"x":{"field":"t","type":"ordinal","bandPosition":-1.42},"text":{"field":"s"}}},
    {"data":{"name":"c1"},"transform":[{"filter":"datum.v < -99999"}],"mark":{"type":"point","filled":false,"color":"black","strokeWidth":1.3,"opacity":1},"encoding":{"x":{"field":"t","type":"ordinal"},
      "shape":{"field":"grp","type":"nominal","scale":{"domain":["Control","T. gondii"],"range":["M-2.6,0H-1.25M1.25,0H2.6M-1.25,0A1.25,1.25,0,1,1,1.25,0A1.25,1.25,0,1,1,-1.25,0Z","M-2.6,0H2.6M-1.2,-1.2H1.2V1.2H-1.2ZM-1.2,-0.9H1.2M-1.2,-0.3H1.2M-1.2,0.3H1.2M-1.2,0.9H1.2"]},"legend":{"title":null,"orient":"none","legendX":12,"legendY":1,"labelFontSize":9,"symbolSize":36,"symbolStrokeWidth":1.3,"rowPadding":0,"labelOffset":9,"padding":0,"labelFontStyle":{"expr":"datum.label == 'T. gondii' ? 'italic' : 'normal'"}}}}}
   ]},
   {"width":131,"height":87,
    "encoding":{"y":{"field":"v","type":"quantitative","title":"CCL4 (pg/mL)","scale":{"domain":[-50,250],"nice":false,"zero":false},"axis":{"values":[-50,0,50,100,150,200,250],"format":"d","title":"CCL4 (pg/mL)"}}},
    "layer":[
    {"data":{"name":"c2"},"mark":{"type":"errorbar","ticks":true,"size":9,"thickness":1.2,"color":"black"},"encoding":{"x":{"field":"t","type":"ordinal","scale":{"type":"band","domain":["2","4","6","18"],"paddingInner":0,"paddingOuter":0.06},"axis":{"title":"Hours post infection","labelAngle":0,"ticks":true,"tickSize":3}},"y":{"field":"lo","type":"quantitative","title":"CCL4 (pg/mL)","scale":{"domain":[-50,250],"nice":false,"zero":false},"axis":{"values":[-50,0,50,100,150,200,250],"format":"d","title":"CCL4 (pg/mL)"}},"y2":{"field":"hi"}}},
    {"mark":{"type":"rule","strokeDash":[2,2],"color":"#555555","strokeWidth":1},"encoding":{"y":{"datum":0,"type":"quantitative"}}},
    {"data":{"name":"c2"},"mark":{"type":"line","color":"black","strokeWidth":1.6},"encoding":{"x":{"field":"t","type":"ordinal"},"detail":{"field":"grp"}}},
    {"data":{"name":"c2"},"transform":[{"filter":"datum.grp=='Control'"}],"mark":{"type":"point","shape":"circle","filled":true,"fill":"white","stroke":"black","strokeWidth":1.3,"size":34,"opacity":1},"encoding":{"x":{"field":"t","type":"ordinal"}}},
    {"data":{"name":"c2"},"transform":[{"filter":"datum.grp!='Control'"}],"mark":{"type":"point","shape":"square","filled":true,"color":"black","size":40,"opacity":1},"encoding":{"x":{"field":"t","type":"ordinal"}}},
    {"data":{"name":"c2s"},"mark":{"type":"text","color":"black","fontSize":9,"fontWeight":"bold","baseline":"alphabetic"},"encoding":{"x":{"field":"t","type":"ordinal"},"text":{"field":"s"}}},
    {"data":{"name":"c2"},"transform":[{"filter":"datum.v < -99999"}],"mark":{"type":"point","filled":false,"color":"black","strokeWidth":1.3,"opacity":1},"encoding":{"x":{"field":"t","type":"ordinal"},
      "shape":{"field":"grp","type":"nominal","scale":{"domain":["Control","T. gondii"],"range":["M-2.6,0H-1.25M1.25,0H2.6M-1.25,0A1.25,1.25,0,1,1,1.25,0A1.25,1.25,0,1,1,-1.25,0Z","M-2.6,0H2.6M-1.2,-1.2H1.2V1.2H-1.2ZM-1.2,-0.9H1.2M-1.2,-0.3H1.2M-1.2,0.3H1.2M-1.2,0.9H1.2"]},"legend":{"title":null,"orient":"none","legendX":12,"legendY":1,"labelFontSize":9,"symbolSize":36,"symbolStrokeWidth":1.3,"rowPadding":0,"labelOffset":9,"padding":0,"labelFontStyle":{"expr":"datum.label == 'T. gondii' ? 'italic' : 'normal'"}}}}}
   ]},
   {"width":131,"height":87,
    "encoding":{"y":{"field":"v","type":"quantitative","title":"CXCL9 (pg/mL)","scale":{"domain":[0,150],"nice":false,"zero":false},"axis":{"values":[0,50,100,150],"format":"d","title":"CXCL9 (pg/mL)"}}},
    "layer":[
    {"data":{"name":"c3"},"mark":{"type":"errorbar","ticks":true,"size":9,"thickness":1.2,"color":"black"},"encoding":{"x":{"field":"t","type":"ordinal","scale":{"type":"band","domain":["2","4","6","18"],"paddingInner":0,"paddingOuter":0.06},"axis":{"title":"Hours post infection","labelAngle":0,"ticks":true,"tickSize":3}},"y":{"field":"lo","type":"quantitative","title":"CXCL9 (pg/mL)","scale":{"domain":[0,150],"nice":false,"zero":false},"axis":{"values":[0,50,100,150],"format":"d","title":"CXCL9 (pg/mL)"}},"y2":{"field":"hi"}}},
    {"data":{"name":"c3"},"mark":{"type":"line","color":"black","strokeWidth":1.6},"encoding":{"x":{"field":"t","type":"ordinal"},"detail":{"field":"grp"}}},
    {"data":{"name":"c3"},"transform":[{"filter":"datum.grp=='Control'"}],"mark":{"type":"point","shape":"circle","filled":true,"fill":"white","stroke":"black","strokeWidth":1.3,"size":34,"opacity":1},"encoding":{"x":{"field":"t","type":"ordinal"}}},
    {"data":{"name":"c3"},"transform":[{"filter":"datum.grp!='Control'"}],"mark":{"type":"point","shape":"square","filled":true,"color":"black","size":40,"opacity":1},"encoding":{"x":{"field":"t","type":"ordinal"}}},
    {"data":{"name":"c3"},"transform":[{"filter":"datum.v < -99999"}],"mark":{"type":"point","filled":false,"color":"black","strokeWidth":1.3,"opacity":1},"encoding":{"x":{"field":"t","type":"ordinal"},
      "shape":{"field":"grp","type":"nominal","scale":{"domain":["Control","T. gondii"],"range":["M-2.6,0H-1.25M1.25,0H2.6M-1.25,0A1.25,1.25,0,1,1,1.25,0A1.25,1.25,0,1,1,-1.25,0Z","M-2.6,0H2.6M-1.2,-1.2H1.2V1.2H-1.2ZM-1.2,-0.9H1.2M-1.2,-0.3H1.2M-1.2,0.3H1.2M-1.2,0.9H1.2"]},"legend":{"title":null,"orient":"none","legendX":12,"legendY":1,"labelFontSize":9,"symbolSize":36,"symbolStrokeWidth":1.3,"rowPadding":0,"labelOffset":9,"padding":0,"labelFontStyle":{"expr":"datum.label == 'T. gondii' ? 'italic' : 'normal'"}}}}}
   ]},
   {"width":131,"height":87,
    "encoding":{"y":{"field":"v","type":"quantitative","title":"CXCL10 (pg/mL)","scale":{"domain":[-10,30],"nice":false,"zero":false},"axis":{"values":[-10,0,10,20,30],"format":"d","title":"CXCL10 (pg/mL)"}}},
    "layer":[
    {"data":{"name":"c4"},"mark":{"type":"errorbar","ticks":true,"size":9,"thickness":1.2,"color":"black"},"encoding":{"x":{"field":"t","type":"ordinal","scale":{"type":"band","domain":["2","4","6","18"],"paddingInner":0,"paddingOuter":0.06},"axis":{"title":"Hours post infection","labelAngle":0,"ticks":true,"tickSize":3}},"y":{"field":"lo","type":"quantitative","title":"CXCL10 (pg/mL)","scale":{"domain":[-10,30],"nice":false,"zero":false},"axis":{"values":[-10,0,10,20,30],"format":"d","title":"CXCL10 (pg/mL)"}},"y2":{"field":"hi"}}},
    {"mark":{"type":"rule","strokeDash":[2,2],"color":"#555555","strokeWidth":1},"encoding":{"y":{"datum":0,"type":"quantitative"}}},
    {"data":{"name":"c4"},"mark":{"type":"line","color":"black","strokeWidth":1.6},"encoding":{"x":{"field":"t","type":"ordinal"},"detail":{"field":"grp"}}},
    {"data":{"name":"c4"},"transform":[{"filter":"datum.grp=='Control'"}],"mark":{"type":"point","shape":"circle","filled":true,"fill":"white","stroke":"black","strokeWidth":1.3,"size":34,"opacity":1},"encoding":{"x":{"field":"t","type":"ordinal"}}},
    {"data":{"name":"c4"},"transform":[{"filter":"datum.grp!='Control'"}],"mark":{"type":"point","shape":"square","filled":true,"color":"black","size":40,"opacity":1},"encoding":{"x":{"field":"t","type":"ordinal"}}},
    {"data":{"name":"c4"},"transform":[{"filter":"datum.v < -99999"}],"mark":{"type":"point","filled":false,"color":"black","strokeWidth":1.3,"opacity":1},"encoding":{"x":{"field":"t","type":"ordinal"},
      "shape":{"field":"grp","type":"nominal","scale":{"domain":["Control","T. gondii"],"range":["M-2.6,0H-1.25M1.25,0H2.6M-1.25,0A1.25,1.25,0,1,1,1.25,0A1.25,1.25,0,1,1,-1.25,0Z","M-2.6,0H2.6M-1.2,-1.2H1.2V1.2H-1.2ZM-1.2,-0.9H1.2M-1.2,-0.3H1.2M-1.2,0.3H1.2M-1.2,0.9H1.2"]},"legend":{"title":null,"orient":"none","legendX":12,"legendY":1,"labelFontSize":9,"symbolSize":36,"symbolStrokeWidth":1.3,"rowPadding":0,"labelOffset":9,"padding":0,"labelFontStyle":{"expr":"datum.label == 'T. gondii' ? 'italic' : 'normal'"}}}}}
   ]}
   ]}
  ]}
 ]},
 {"spacing":0,"hconcat":[
  {"width":1,"height":1,"data":{"name":"sp"},"mark":{"type":"point","size":0,"opacity":0},"encoding":{}},
  {"spacing":15,"hconcat":[
  {"width":252,"height":109,
   "encoding":{"x":{"field":"c","type":"nominal","scale":{"domain":["Control","DPI","DMM","2DG","GSDMDi","NEI"," ","NET","NET + DPI","NET + DMM","NET + 2DG","NET + GSDMDi","NET + NEI"],"paddingInner":0.28,"paddingOuter":0.65},"axis":{"title":null,"labelAngle":-45,"ticks":false,"labelFontSize":10,"labelPadding":3}},
     "y":{"field":"v","type":"quantitative","title":"Migrated PMN","scale":{"domain":[0,100000],"nice":false},"axis":{"values":[0,20000,40000,60000,80000,100000],"title":"Migrated PMN","titleFontSize":12.5,"labelFontSize":10,"labelExpr":"datum.value == 0 ? '0' : (datum.value == 100000 ? '1×10⁵' : (datum.value / 10000) + '×10⁴')"}}},
   "layer":[
   {"data":{"name":"d"},"transform":[{"aggregate":[{"op":"mean","field":"v","as":"v"}],"groupby":["c"]}],"mark":{"type":"bar","fill":"white","stroke":"black","strokeWidth":1.2},"encoding":{}},
   {"data":{"name":"d"},"mark":{"type":"errorbar","extent":"stderr","ticks":true,"size":7,"thickness":1.2,"color":"black"},"encoding":{}},
   {"data":{"name":"d"},"transform":[{"filter":"datum.r % 3 == 1"}],"mark":{"type":"point","shape":"circle","filled":true,"color":"black","size":16,"opacity":1},"encoding":{"x":{"field":"c","type":"nominal","bandPosition":0.5}}},
   {"data":{"name":"d"},"transform":[{"filter":"datum.r % 3 == 2"}],"mark":{"type":"point","shape":"circle","filled":true,"color":"black","size":16,"opacity":1},"encoding":{"x":{"field":"c","type":"nominal","bandPosition":0.2}}},
   {"data":{"name":"d"},"transform":[{"filter":"datum.r % 3 == 0"}],"mark":{"type":"point","shape":"circle","filled":true,"color":"black","size":16,"opacity":1},"encoding":{"x":{"field":"c","type":"nominal","bandPosition":0.8}}},
   {"data":{"name":"dk"},"transform":[{"filter":"datum.k=='r'"}],"mark":{"type":"rule","color":"black","strokeWidth":1.1},"encoding":{"y2":{"field":"v2"}}},
   {"data":{"name":"dk"},"transform":[{"filter":"datum.k=='h'"}],"mark":{"type":"line","color":"black","strokeWidth":1.1},"encoding":{}},
   {"data":{"name":"dk"},"transform":[{"filter":"datum.k=='s'"}],"mark":{"type":"text","color":"black","fontSize":10,"fontWeight":"bold","baseline":"alphabetic"},"encoding":{"x":{"field":"c","type":"nominal","bandPosition":1.19},"text":{"field":"t"}}},
   {"data":{"name":"dk"},"transform":[{"filter":"datum.k=='L'"}],"mark":{"type":"text","color":"black","fontSize":14,"fontWeight":"bold","align":"left","baseline":"top"},"encoding":{"x":{"field":"c","type":"nominal","bandPosition":-5.25},"text":{"field":"t"}}}
  ]},
  {"spacing":19,"hconcat":[
    {"width":130,"height":134,
     "encoding":{"x":{"field":"g","type":"nominal","scale":{"domain":["Control","NET","NET + DPI"],"paddingInner":0,"paddingOuter":0},"axis":{"title":null,"labelAngle":0,"ticks":false,"labelPadding":3}},
       "y":{"field":"v","type":"quantitative","title":"MFI CD66b","scale":{"domain":[0,61609],"nice":false,"zero":false},"axis":{"values":[0,10000,20000,30000,40000],"format":"d","title":"MFI CD66b","domain":false,"titleY":97}}},
     "layer":[
     {"data":{"name":"e1"},"transform":[{"filter":"datum.g=='Control'"}],"mark":{"type":"point","shape":"circle","filled":true,"fill":"white","stroke":"black","strokeWidth":1.2,"size":34,"opacity":1},"encoding":{"xOffset":{"field":"r","type":"nominal","scale":{"range":[7,37]}}}},
     {"data":{"name":"e1"},"transform":[{"filter":"datum.g!='Control'"}],"mark":{"type":"point","filled":true,"color":"black","size":42,"opacity":1},"encoding":{"xOffset":{"field":"r","type":"nominal"},"shape":{"field":"g","type":"nominal","scale":{"domain":["NET","NET + DPI"],"range":["square","triangle-up"]},"legend":null}}},
     {"data":{"name":"e1"},"mark":{"type":"errorbar","extent":"stdev","ticks":true,"size":14,"thickness":1.3,"color":"black"},"encoding":{}},
     {"data":{"name":"e1"},"transform":[{"aggregate":[{"op":"mean","field":"v","as":"v"}],"groupby":["g"]}],"mark":{"type":"tick","size":28,"thickness":1.5,"color":"black"},"encoding":{}},
     {"data":{"name":"e1k"},"transform":[{"filter":"datum.k=='ax'"}],"mark":{"type":"rule","color":"black","strokeWidth":1.2},"encoding":{"x":{"field":"g","type":"nominal","bandPosition":0},"y2":{"field":"v2"}}},
     {"data":{"name":"e1k"},"transform":[{"filter":"datum.k=='b'"}],"mark":{"type":"line","color":"black","strokeWidth":1.1},"encoding":{"detail":{"field":"b"},"order":{"field":"o"}}},
     {"data":{"name":"e1k"},"transform":[{"filter":"datum.k=='m'"}],"mark":{"type":"text","color":"black","fontSize":10,"fontWeight":"bold","baseline":"alphabetic"},"encoding":{"x":{"field":"g","type":"nominal","bandPosition":1},"text":{"field":"t"}}},
     {"data":{"name":"e1k"},"transform":[{"filter":"datum.k=='c'"}],"mark":{"type":"text","color":"black","fontSize":10,"fontWeight":"bold","baseline":"alphabetic"},"encoding":{"x":{"field":"g","type":"nominal","bandPosition":0.5},"text":{"field":"t"}}},
     {"data":{"name":"e1k"},"transform":[{"filter":"datum.k=='u'"}],"mark":{"type":"rule","color":"#999999","strokeWidth":1},"encoding":{"x":{"field":"g","type":"nominal","bandPosition":0.27},"x2":{"field":"g2","bandPosition":1}}},
     {"data":{"name":"e1k"},"transform":[{"filter":"datum.k=='w'"}],"mark":{"type":"text","color":"black","fontSize":9,"baseline":"alphabetic"},"encoding":{"x":{"field":"g","type":"nominal","bandPosition":1.1},"text":{"field":"t"}}},
     {"data":{"name":"e1k"},"transform":[{"filter":"datum.k=='L'"}],"mark":{"type":"text","color":"black","fontSize":14,"fontWeight":"bold","align":"left","baseline":"top"},"encoding":{"x":{"field":"g","type":"nominal","bandPosition":-1.11},"text":{"field":"t"}}}
    ]},
    {"width":130,"height":134,
     "encoding":{"x":{"field":"g","type":"nominal","scale":{"domain":["Control","NET","NET + DPI"],"paddingInner":0,"paddingOuter":0},"axis":{"title":null,"labelAngle":0,"ticks":false,"labelPadding":3}},
       "y":{"field":"v","type":"quantitative","title":"MFI CD11b","scale":{"domain":[0,12322],"nice":false,"zero":false},"axis":{"values":[0,2000,4000,6000,8000],"format":"d","title":"MFI CD11b","domain":false,"titleY":97}}},
     "layer":[
     {"data":{"name":"e2"},"transform":[{"filter":"datum.g=='Control'"}],"mark":{"type":"point","shape":"circle","filled":true,"fill":"white","stroke":"black","strokeWidth":1.2,"size":34,"opacity":1},"encoding":{"xOffset":{"field":"r","type":"nominal","scale":{"range":[7,37]}}}},
     {"data":{"name":"e2"},"transform":[{"filter":"datum.g!='Control'"}],"mark":{"type":"point","filled":true,"color":"black","size":42,"opacity":1},"encoding":{"xOffset":{"field":"r","type":"nominal"},"shape":{"field":"g","type":"nominal","scale":{"domain":["NET","NET + DPI"],"range":["square","triangle-up"]},"legend":null}}},
     {"data":{"name":"e2"},"mark":{"type":"errorbar","extent":"stdev","ticks":true,"size":14,"thickness":1.3,"color":"black"},"encoding":{}},
     {"data":{"name":"e2"},"transform":[{"aggregate":[{"op":"mean","field":"v","as":"v"}],"groupby":["g"]}],"mark":{"type":"tick","size":28,"thickness":1.5,"color":"black"},"encoding":{}},
     {"data":{"name":"e2k"},"transform":[{"filter":"datum.k=='ax'"}],"mark":{"type":"rule","color":"black","strokeWidth":1.2},"encoding":{"x":{"field":"g","type":"nominal","bandPosition":0},"y2":{"field":"v2"}}},
     {"data":{"name":"e2k"},"transform":[{"filter":"datum.k=='b'"}],"mark":{"type":"line","color":"black","strokeWidth":1.1},"encoding":{"detail":{"field":"b"},"order":{"field":"o"}}},
     {"data":{"name":"e2k"},"transform":[{"filter":"datum.k=='m'"}],"mark":{"type":"text","color":"black","fontSize":10,"fontWeight":"bold","baseline":"alphabetic"},"encoding":{"x":{"field":"g","type":"nominal","bandPosition":1},"text":{"field":"t"}}},
     {"data":{"name":"e2k"},"transform":[{"filter":"datum.k=='c'"}],"mark":{"type":"text","color":"black","fontSize":10,"fontWeight":"bold","baseline":"alphabetic"},"encoding":{"x":{"field":"g","type":"nominal","bandPosition":0.5},"text":{"field":"t"}}},
     {"data":{"name":"e2k"},"transform":[{"filter":"datum.k=='u'"}],"mark":{"type":"rule","color":"#999999","strokeWidth":1},"encoding":{"x":{"field":"g","type":"nominal","bandPosition":0.27},"x2":{"field":"g2","bandPosition":1}}},
     {"data":{"name":"e2k"},"transform":[{"filter":"datum.k=='w'"}],"mark":{"type":"text","color":"black","fontSize":9,"baseline":"alphabetic"},"encoding":{"x":{"field":"g","type":"nominal","bandPosition":1.1},"text":{"field":"t"}}}
    ]}
  ]}
  ]}
 ]}
]
}
